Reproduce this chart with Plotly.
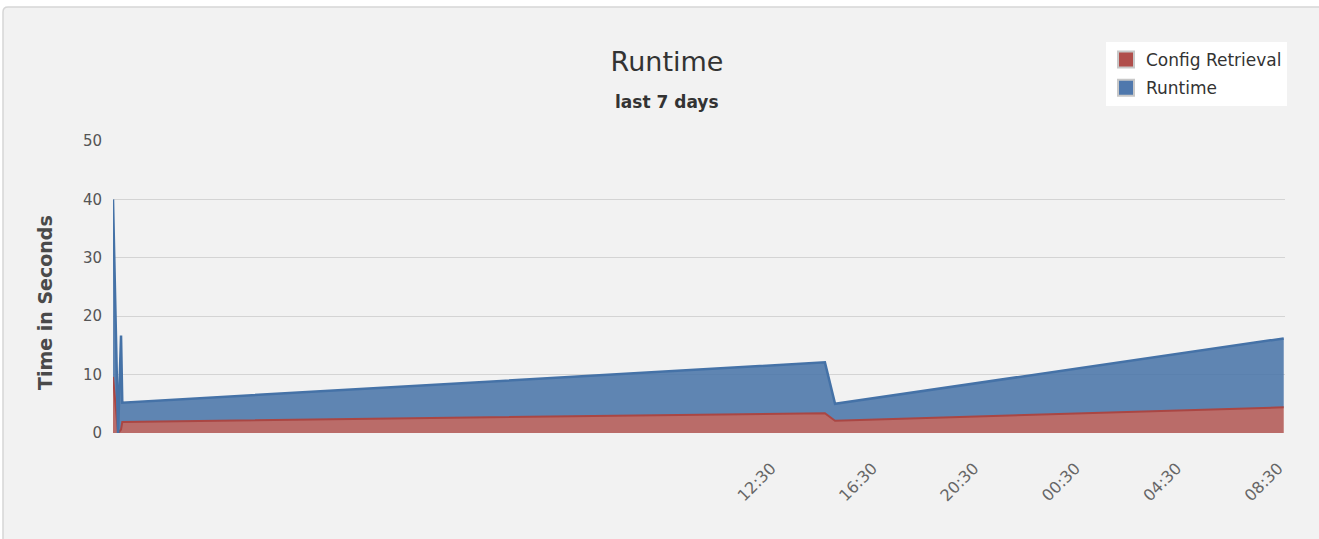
import plotly.graph_objects as go

# ---- data ----
times = [
    "2013-01-01 10:32", "2013-01-01 10:44", "2013-01-01 10:51", "2013-01-01 10:54",
    "2013-01-02 14:37", "2013-01-02 15:01", "2013-01-03 08:43",
]
config_retrieval = [9.6, 0.0, 0.6, 1.9, 3.4, 2.1, 4.4]
runtime = [30.4, 0.0, 16.1, 3.3, 8.7, 2.9, 11.8]

tick_vals = ["2013-01-02 12:30", "2013-01-02 16:30", "2013-01-02 20:30",
             "2013-01-03 00:30", "2013-01-03 04:30", "2013-01-03 08:30"]
tick_text = ["12:30", "16:30", "20:30", "00:30", "04:30", "08:30"]
x_range = ["2013-01-01 10:32", "2013-01-03 08:46"]

# ---- layout geometry (pixels) ----
W, H = 1319, 539
PL, PR, PT, PB = 113, 1285, 141, 433


def px_x(x):
    return (x - PL) / (PR - PL)


def px_y(y):
    return (PB - y) / (PB - PT)


RED_LINE = "#AA4643"
BLUE_LINE = "#4572A7"
RED_FILL = "rgba(170,70,67,0.78)"
BLUE_FILL = "rgba(69,114,167,0.85)"
FONT = "DejaVu Sans, Verdana, sans-serif"

fig = go.Figure()
fig.add_trace(go.Scatter(
    x=times, y=config_retrieval, name="Config Retrieval", stackgroup="s",
    mode="lines", line=dict(color=RED_LINE, width=2), fillcolor=RED_FILL,
    showlegend=False, hoverinfo="x+y+name"))
fig.add_trace(go.Scatter(
    x=times, y=runtime, name="Runtime", stackgroup="s",
    mode="lines", line=dict(color=BLUE_LINE, width=2.5), fillcolor=BLUE_FILL,
    showlegend=False, hoverinfo="x+y+name"))

# legend-only entries with square swatches
for name, col, grp in [("Config Retrieval", "#B04E4B", "a"), ("Runtime", "#4F78AD", "b")]:
    fig.add_trace(go.Scatter(
        x=[None], y=[None], mode="markers", name=name, legendgroup=grp,
        marker=dict(symbol="square", size=16, color=col,
                    line=dict(color="#c8c8c8", width=2))))

# background card with rounded corner
x0, y0 = px_x(3), px_y(7)
x1, y1 = px_x(W + 100), px_y(H + 100)
rx, ry = 5 / (PR - PL), 5 / (PB - PT)
path = (f"M {x0},{y1} L {x0},{y0 - ry} Q {x0},{y0} {x0 + rx},{y0} "
        f"L {x1},{y0} L {x1},{y1} Z")

fig.update_layout(
    width=W, height=H,
    margin=dict(l=PL, r=W - PR, t=PT, b=H - PB, autoexpand=False),
    paper_bgcolor="white",
    plot_bgcolor="rgba(0,0,0,0)",
    font=dict(family=FONT, color="#666666"),
    shapes=[dict(type="path", xref="paper", yref="paper", path=path,
                 fillcolor="#f2f2f2", line=dict(color="#d6d6d6", width=1.5),
                 layer="below")],
    title=dict(text="Runtime", x=667 / W, xanchor="center", xref="container",
               y=1 - 62 / H, yanchor="middle", yref="container",
               font=dict(family=FONT, size=27, color="#333333")),
    annotations=[
        dict(text="<b>last 7 days</b>", xref="paper", yref="paper",
             x=px_x(667), y=px_y(102), xanchor="center", yanchor="middle",
             showarrow=False, font=dict(family=FONT, size=17, color="#333333")),
        dict(text="<b>Time in Seconds</b>", xref="paper", yref="paper",
             x=px_x(45), y=px_y(303), xanchor="center", yanchor="middle",
             textangle=-90, showarrow=False,
             font=dict(family=FONT, size=19, color="#4a4a4a")),
    ],
    legend=dict(x=px_x(1106), y=px_y(42), xanchor="left", yanchor="top",
                bgcolor="white", borderwidth=0, tracegroupgap=3,
                font=dict(family=FONT, size=17, color="#333333"),
                traceorder="grouped"),
    xaxis=dict(type="date", range=x_range, tickvals=tick_vals, ticktext=tick_text,
               tickangle=-45, showgrid=False, zeroline=False, showline=False,
               ticks="", ticklabelstandoff=22,
               tickfont=dict(family=FONT, size=16, color="#666666")),
    yaxis=dict(range=[0, 50], tickvals=[0, 10, 20, 30, 40, 50], showgrid=True,
               gridcolor="#d4d4d4", gridwidth=1, zeroline=False, showline=False,
               ticks="", ticklabelstandoff=10,
               tickfont=dict(family=FONT, size=15, color="#555555")),
    hovermode="x",
)

fig.write_html("out.html", config={"displayModeBar": False},
               post_script="document.body.style.margin='0';document.body.style.padding='0';")
